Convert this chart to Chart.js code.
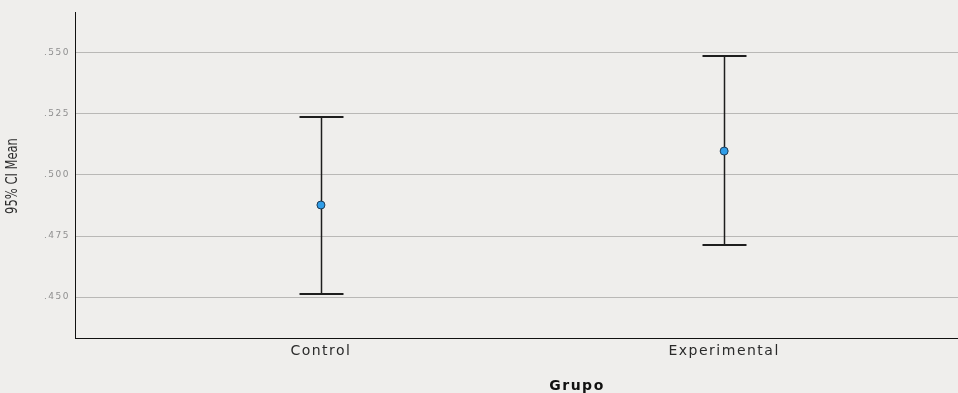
<!DOCTYPE html>
<html>
<head>
<meta charset="utf-8">
<script src="https://cdn.jsdelivr.net/npm/chart.js@4.4.1/dist/chart.umd.min.js"></script>
<style>
  html, body { margin: 0; padding: 0; background: #efeeec; }
  #wrap { width: 958px; height: 393px; }
</style>
</head>
<body>
<div id="wrap"><canvas id="c" width="958" height="393"></canvas></div>
<script>
// Groups, means and 95% confidence limits
const groups = ['Control', 'Experimental'];
const groupPos = [1, 2];
const means = [0.4877, 0.5098];
const lowerCI = [0.4512, 0.4713];
const upperCI = [0.5238, 0.5488];
const yTicks = [0.450, 0.475, 0.500, 0.525, 0.550];

// Page colour and wide letter spacing for all scale text
const bg = {
  id: 'bg',
  beforeDraw(chart) {
    const { ctx, width, height } = chart;
    ctx.fillStyle = '#efeeec';
    ctx.fillRect(0, 0, width, height);
    ctx.letterSpacing = '1.5px';
  }
};

// Whiskers and caps, drawn beneath the mean markers
const errorBars = {
  id: 'errorBars',
  beforeDatasetsDraw(chart) {
    const { ctx, scales: { x, y } } = chart;
    ctx.save();
    ctx.strokeStyle = '#1e1e1e';
    groupPos.forEach((g, i) => {
      const px = Math.round(x.getPixelForValue(g)) + 0.5;
      const top = y.getPixelForValue(upperCI[i]);
      const bot = y.getPixelForValue(lowerCI[i]);
      ctx.lineWidth = 1.5;
      ctx.beginPath();
      ctx.moveTo(px, top);
      ctx.lineTo(px, bot);
      ctx.stroke();
      ctx.lineWidth = 2;
      ctx.beginPath();
      ctx.moveTo(px - 22, top); ctx.lineTo(px + 22, top);
      ctx.moveTo(px - 22, bot); ctx.lineTo(px + 22, bot);
      ctx.stroke();
    });
    ctx.restore();
  }
};

// Axis titles: condensed vertical label and bold group label
const titles = {
  id: 'titles',
  afterDraw(chart) {
    const { ctx, chartArea } = chart;
    ctx.save();
    ctx.letterSpacing = '0px';
    ctx.fillStyle = '#2a2a2a';
    ctx.textAlign = 'center';
    ctx.textBaseline = 'middle';
    ctx.translate(13, (chartArea.top + chartArea.bottom) / 2 + 1);
    ctx.rotate(-Math.PI / 2);
    ctx.scale(0.72, 1);
    ctx.font = '16px "DejaVu Sans", sans-serif';
    ctx.fillText('95% CI Mean', 0, 0);
    ctx.restore();

    ctx.save();
    ctx.letterSpacing = '1.5px';
    ctx.font = 'bold 14px "DejaVu Sans", sans-serif';
    ctx.fillStyle = '#111';
    ctx.textAlign = 'center';
    ctx.textBaseline = 'middle';
    ctx.fillText('Grupo', 577, 386);
    ctx.restore();
  }
};

new Chart(document.getElementById('c'), {
  type: 'scatter',
  data: {
    datasets: [{
      data: groupPos.map((g, i) => ({ x: g, y: means[i] })),
      backgroundColor: '#2f9de8',
      borderColor: '#1c3a55',
      borderWidth: 1,
      pointRadius: 4,
      pointHoverRadius: 4
    }]
  },
  options: {
    responsive: false,
    animation: false,
    layout: { autoPadding: false, padding: { top: 12, right: 0, bottom: 0, left: 0 } },
    plugins: { legend: { display: false }, tooltip: { enabled: false } },
    scales: {
      x: {
        type: 'linear',
        min: 0.39,
        max: 2.58,
        afterBuildTicks(s) { s.ticks = groupPos.map(v => ({ value: v })); },
        afterFit(s) { s.height = 55; s.paddingLeft = 0; s.paddingRight = 0; },
        grid: { display: false, drawTicks: false },
        border: { display: true, color: '#111', width: 1 },
        ticks: {
          padding: 5,
          color: '#2a2a2a',
          font: { family: '"DejaVu Sans", sans-serif', size: 14 },
          callback: (v) => groups[groupPos.indexOf(v)] ?? ''
        }
      },
      y: {
        min: 0.4332,
        max: 0.5668,
        afterBuildTicks(s) { s.ticks = yTicks.map(v => ({ value: v })); },
        afterFit(s) { s.width = 75; s.paddingTop = 0; s.paddingBottom = 0; },
        grid: { color: '#b9b8b6', lineWidth: 1, drawTicks: false },
        border: { display: true, color: '#111', width: 1 },
        ticks: {
          padding: 5,
          color: '#8f8f8f',
          font: { family: '"DejaVu Sans", sans-serif', size: 9 },
          callback: (v) => v.toFixed(3).replace(/^0/, '')
        }
      }
    }
  },
  plugins: [bg, errorBars, titles]
});
</script>
</body>
</html>
